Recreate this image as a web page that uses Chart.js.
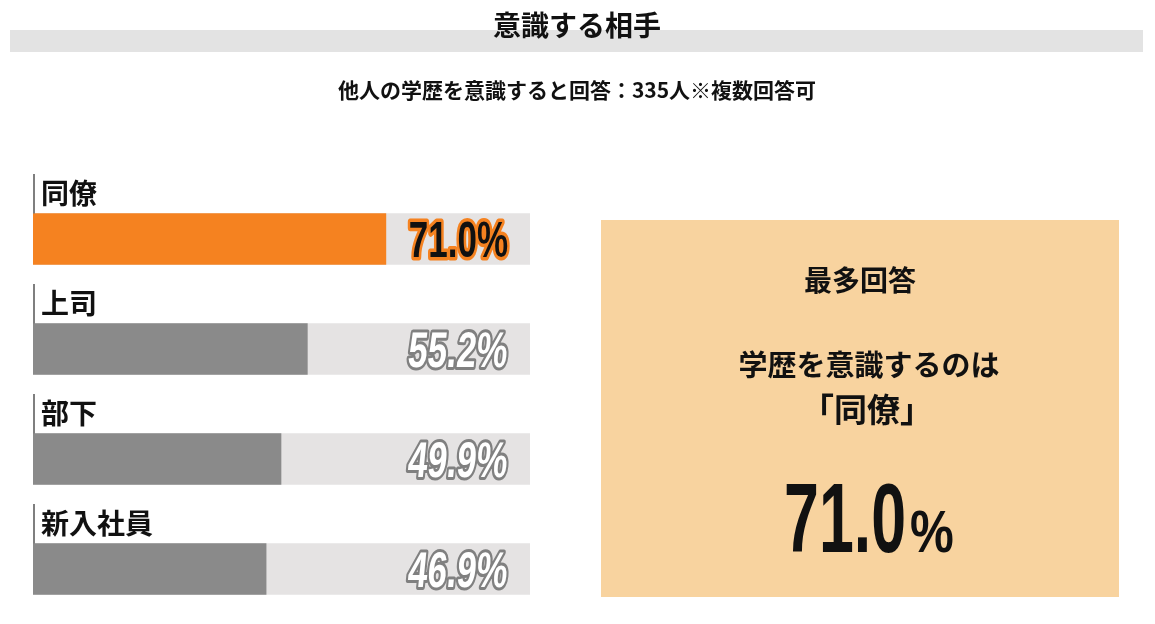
<!DOCTYPE html>
<html lang="ja">
<head>
<meta charset="utf-8">
<script src="https://cdn.jsdelivr.net/npm/chart.js@4"></script>
<style>
  html, body { margin: 0; padding: 0; background: #fff; }
  #wrap { width: 1155px; height: 624px; position: relative; }
</style>
</head>
<body>
<div id="wrap"><canvas id="chart"></canvas></div>
<script>
// data
const categories = ['同僚', '上司', '部下', '新入社員'];
const values = [71.0, 55.2, 49.9, 46.9];
const trackMax = [100, 100, 100, 100];

const titleText = '意識する相手';
const subtitleText = '他人の学歴を意識すると回答：335人※複数回答可';
const panelHead = '最多回答';
const panelLine1 = '学歴を意識するのは';

const JP = '"Noto Sans CJK JP", "Noto Sans", sans-serif';
const NUM = '"Liberation Sans", Arial, sans-serif';

const topIdx = values.indexOf(Math.max(...values));
const barColors = values.map((v, i) => i === topIdx ? '#f58220' : '#8a8a8a');

function condensedText(ctx, text, x, y, font, sx, fill, stroke, lw, skew) {
  ctx.save();
  ctx.font = font;
  ctx.translate(x, y);
  ctx.transform(sx, 0, -(skew || 0), 1, 0, 0);
  ctx.lineJoin = 'round';
  if (stroke) {
    ctx.strokeStyle = stroke;
    ctx.lineWidth = lw;
    ctx.strokeText(text, 0, 0);
  }
  ctx.fillStyle = fill;
  ctx.fillText(text, 0, 0);
  ctx.restore();
}

const decor = {
  id: 'decor',
  beforeDraw(chart) {
    const ctx = chart.ctx;
    ctx.save();
    // header band
    ctx.fillStyle = '#e3e3e3';
    ctx.fillRect(10, 30, 1133, 22);
    ctx.fillStyle = '#111';
    ctx.textAlign = 'center';
    ctx.textBaseline = 'middle';
    ctx.font = 'bold 28px ' + JP;
    ctx.fillText(titleText, 577, 25);
    ctx.font = 'bold 21px ' + JP;
    ctx.fillText(subtitleText, 577, 90);

    // highlight panel
    ctx.fillStyle = '#f8d39f';
    ctx.fillRect(601, 220, 518, 377);
    ctx.fillStyle = '#111';
    ctx.font = 'bold 28px ' + JP;
    ctx.fillText(panelHead, 860, 280);
    ctx.font = 'bold 29px ' + JP;
    ctx.fillText(panelLine1, 869, 365);
    ctx.font = 'bold 33px ' + JP;
    ctx.fillText('「' + categories[topIdx] + '」', 867, 409);

    // big number
    ctx.textAlign = 'left';
    ctx.textBaseline = 'alphabetic';
    const num = values[topIdx].toFixed(1);
    ctx.font = 'bold 98px ' + NUM;
    const w = ctx.measureText(num).width * 0.64;
    condensedText(ctx, num, 784, 552, 'bold 98px ' + NUM, 0.64, '#111');
    condensedText(ctx, '%', 784 + w + 4, 552, 'bold 60px ' + NUM, 0.82, '#111');
    ctx.restore();
  },
  afterDatasetsDraw(chart) {
    const ctx = chart.ctx;
    const meta = chart.getDatasetMeta(0);
    const xs = chart.scales.x;
    const right = xs.getPixelForValue(100) - 22;
    const left = chart.chartArea.left;
    ctx.save();
    meta.data.forEach((bar, i) => {
      const top = bar.y - bar.height / 2;
      // category label and thin marker line
      ctx.strokeStyle = '#555';
      ctx.lineWidth = 1.5;
      ctx.beginPath();
      ctx.moveTo(left + 1, bar.y - 65);
      ctx.lineTo(left + 1, top);
      ctx.stroke();
      ctx.fillStyle = '#111';
      ctx.font = 'bold 28px ' + JP;
      ctx.textAlign = 'left';
      ctx.textBaseline = 'middle';
      ctx.fillText(categories[i], left + 8, bar.y - 46);

      // value label
      const txt = values[i].toFixed(1) + '%';
      const font = 'bold 50px ' + NUM;
      ctx.font = font;
      const sx = 0.7;
      const tw = ctx.measureText(txt).width * sx;
      ctx.textAlign = 'left';
      ctx.textBaseline = 'alphabetic';
      if (i === topIdx) {
        condensedText(ctx, txt, right - tw, bar.y + 18, font, sx, '#111', '#f58220', 7, 0);
      } else {
        condensedText(ctx, txt, right - tw - 2, bar.y + 18, font, sx, '#fff', '#808080', 6, 0.1);
      }
    });
    ctx.restore();
  }
};

new Chart(document.getElementById('chart'), {
  type: 'bar',
  data: {
    labels: categories,
    datasets: [
      {
        label: '割合',
        data: values,
        backgroundColor: barColors,
        grouped: false,
        order: 1,
        barThickness: 51
      },
      {
        label: 'track',
        data: trackMax,
        backgroundColor: '#e5e3e3',
        grouped: false,
        order: 2,
        barThickness: 51
      }
    ]
  },
  options: {
    indexAxis: 'y',
    responsive: true,
    maintainAspectRatio: false,
    animation: false,
    layout: { padding: { top: 184, left: 33, right: 625, bottom: 0 } },
    scales: {
      x: { display: false, min: 0, max: 100 },
      y: { display: false }
    },
    plugins: {
      legend: { display: false },
      tooltip: { enabled: false },
      title: { display: false }
    }
  },
  plugins: [decor]
});
</script>
</body>
</html>
